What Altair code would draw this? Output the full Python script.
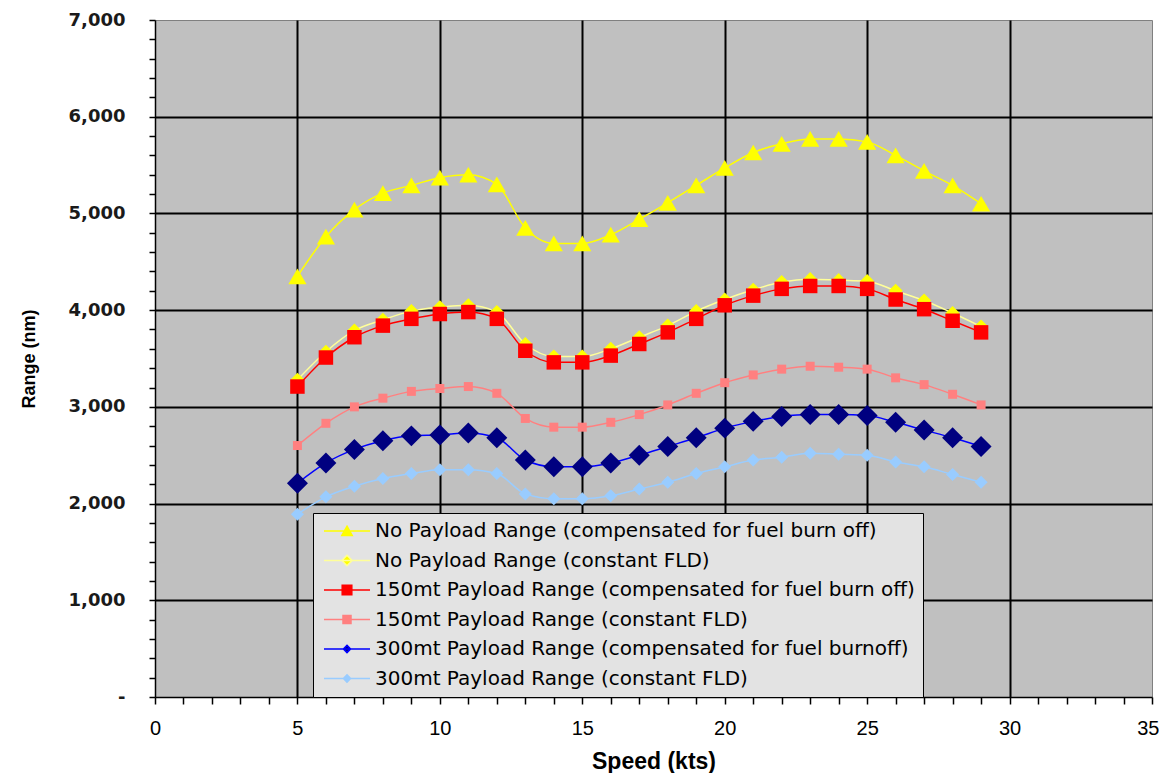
import altair as alt
import pandas as pd

# ---------------- data ----------------
speed = list(range(5, 30))

no_payload_comp = [4350, 4760, 5040, 5210, 5290, 5370, 5400, 5300, 4850, 4690, 4690, 4780, 4940,
                   5110, 5290, 5470, 5630, 5720, 5770, 5770, 5740, 5600, 5440, 5290, 5100]
no_payload_const = [3280, 3570, 3790, 3900, 3990, 4030, 4050, 3980, 3650, 3520, 3520, 3600, 3720,
                    3840, 3990, 4110, 4210, 4290, 4320, 4310, 4300, 4200, 4100, 3970, 3830]
p150_comp = [3210, 3510, 3720, 3840, 3910, 3960, 3980, 3910, 3580, 3460, 3460, 3530, 3650,
             3770, 3910, 4050, 4150, 4220, 4250, 4250, 4220, 4110, 4010, 3890, 3770]
p150_const = [2600, 2830, 3000, 3090, 3160, 3190, 3210, 3140, 2880, 2790, 2790, 2840, 2920,
              3020, 3140, 3250, 3330, 3390, 3420, 3410, 3390, 3300, 3230, 3130, 3020]
p300_comp = [2210, 2420, 2560, 2650, 2700, 2710, 2730, 2680, 2450, 2380, 2380, 2420, 2500,
             2590, 2680, 2780, 2850, 2900, 2920, 2920, 2910, 2840, 2760, 2680, 2590]
p300_const = [1890, 2070, 2180, 2260, 2310, 2350, 2350, 2310, 2100, 2050, 2050, 2080, 2150,
              2220, 2310, 2380, 2450, 2480, 2520, 2510, 2500, 2430, 2380, 2300, 2220]

names = [
    "No Payload Range (compensated for fuel burn off)",
    "No Payload Range (constant FLD)",
    "150mt Payload Range (compensated for fuel burn off)",
    "150mt Payload Range (constant FLD)",
    "300mt Payload Range (compensated for fuel burnoff)",
    "300mt Payload Range (constant FLD)",
]
series_values = [no_payload_comp, no_payload_const, p150_comp, p150_const, p300_comp, p300_const]

x_ticks = list(range(0, 36))
y_ticks = list(range(0, 7001, 200))

# ---------------- styles ----------------
line_colors = ["#FFFF00", "#FFFF99", "#FF0000", "#FF8080", "#0000FF", "#99CCFF"]
marker_colors = ["#FFFF00", "#FFFF00", "#FF0000", "#FF8080", "#000080", "#99CCFF"]
marker_shapes = ["triangle-up", "diamond", "square", "square", "diamond", "diamond"]
marker_sizes = [330, 200, 210, 81, 440, 170]

seg = "M-2.875,0H2.875"
legend_paths = [
    seg + "M0,-0.6L0.65,0.55L-0.65,0.55Z",
    seg + "M0,-0.65L0.65,0L0,0.65L-0.65,0Z",
    seg + "M-0.6,-0.6H0.6V0.6H-0.6Z",
    seg + "M-0.5,-0.5H0.5V0.5H-0.5Z",
    seg + "M0,-0.45L0.45,0L0,0.45L-0.45,0Z",
    seg + "M0,-0.45L0.45,0L0,0.45L-0.45,0Z",
]

rows = []
for name, vals in zip(names, series_values):
    for s, v in zip(speed, vals):
        rows.append({"speed": s, "range": v, "series": name})
df = pd.DataFrame(rows)

x_axis = alt.Axis(
    values=x_ticks,
    labelExpr="datum.value % 5 === 0 ? datum.label : ''",
    title="Speed (kts)",
    grid=True,
    gridColor="#000000",
    gridWidth=2,
    gridOpacity={"condition": {"test": "datum.value % 5 === 0 && datum.value > 0 && datum.value < 35",
                               "value": 1}, "value": 0},
    domainColor="#000000",
    domainWidth=1.5,
    tickColor="#000000",
    tickWidth=1.5,
    tickSize=7,
    labelFont="Liberation Sans",
    labelFontSize=20,
    labelColor="#000000",
    labelPadding=14,
    labelAlign={"condition": {"test": "datum.value === 35", "value": "right"}, "value": "center"},
    labelOffset={"condition": {"test": "datum.value === 35", "value": 7}, "value": 0},
    labelOverlap=False,
    labelFlush=False,
    titleFont="Liberation Sans",
    titleFontSize=23,
    titleFontWeight="bold",
    titleColor="#000000",
    titlePadding=12,
)

y_axis = alt.Axis(
    values=y_ticks,
    labelExpr="datum.value === 0 ? '-' : (datum.value % 1000 === 0 ? format(datum.value, ',') : '')",
    title="Range (nm)",
    grid=True,
    gridColor="#000000",
    gridWidth=2,
    gridOpacity={"condition": {"test": "datum.value % 1000 === 0 && datum.value > 0 && datum.value < 7000",
                               "value": 1}, "value": 0},
    domainColor="#000000",
    domainWidth=1.5,
    tickColor="#000000",
    tickWidth=1.5,
    tickSize=6,
    labelFont="DejaVu Sans",
    labelFontWeight="bold",
    labelFontSize=18,
    labelColor="#1a1a1a",
    labelPadding=24,
    labelOverlap=False,
    labelFlush=False,
    titleFont="Liberation Sans",
    titleFontSize=18,
    titleFontWeight="bold",
    titleColor="#000000",
    titlePadding=30,
)

x_enc = alt.X("speed:Q", scale=alt.Scale(domain=[0, 35], nice=False, zero=False), axis=x_axis)
y_enc = alt.Y("range:Q", scale=alt.Scale(domain=[0, 7000], nice=False), axis=y_axis)

layers = []
for i, name in enumerate(names):
    sub = df[df["series"] == name]
    layers.append(
        alt.Chart(sub).mark_line(color=line_colors[i], strokeWidth=1.5, interpolate="monotone")
        .encode(x=x_enc, y=y_enc)
    )
    layers.append(
        alt.Chart(sub).mark_point(shape=marker_shapes[i], size=marker_sizes[i], filled=True,
                                  color=marker_colors[i], opacity=1, strokeWidth=0)
        .encode(x=x_enc, y=y_enc)
    )

legend = alt.Legend(
    title=None,
    orient="none",
    legendX=158,
    legendY=493,
    fillColor="#E3E3E3",
    strokeColor="#000000",
    padding=8,
    symbolSize=256,
    symbolOffset=16,
    symbolStrokeWidth=1.5,
    labelOffset=18,
    rowPadding=9.5,
    labelFont="DejaVu Sans",
    labelFontSize=20,
    labelColor="#000000",
    labelLimit=1000,
)

legend_layer = (
    alt.Chart(df)
    .transform_filter("false")
    .mark_point(filled=True, opacity=1, strokeWidth=1.5)
    .encode(
        x=x_enc,
        y=y_enc,
        shape=alt.Shape("series:N", scale=alt.Scale(domain=names, range=legend_paths), legend=legend),
        fill=alt.Fill("series:N", scale=alt.Scale(domain=names, range=marker_colors), legend=legend),
        stroke=alt.Stroke("series:N", scale=alt.Scale(domain=names, range=line_colors), legend=legend),
    )
)

chart = (
    alt.layer(*layers, legend_layer)
    .properties(
        width=997,
        height=677,
        autosize=alt.AutoSizeParams(type="none"),
        padding={"left": 147, "top": 12, "right": 7, "bottom": 76},
        background="#FFFFFF",
    )
    .configure_view(fill="#C0C0C0", stroke="#808080", strokeWidth=1)
)

chart.save("out.html", embed_options={"renderer": "svg", "actions": False})
